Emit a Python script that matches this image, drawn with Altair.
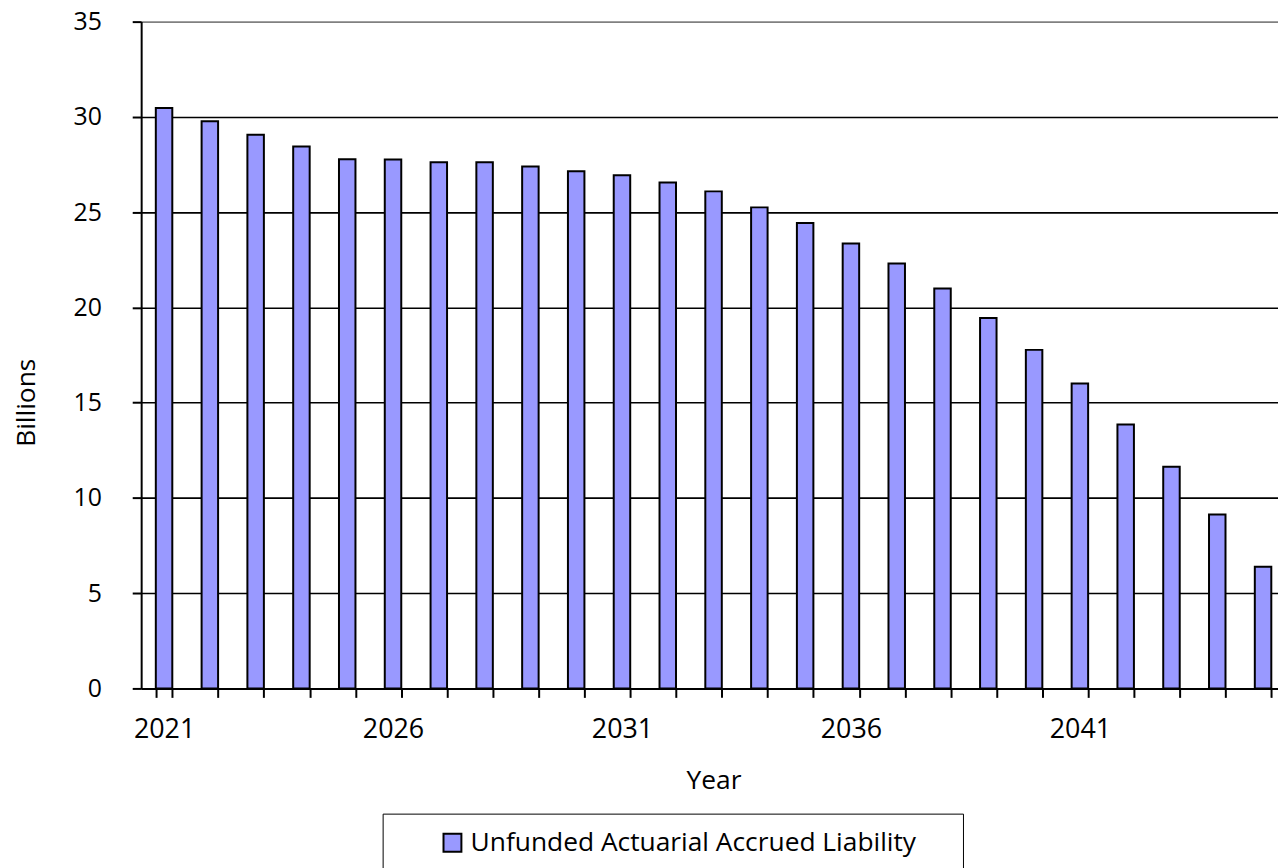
import altair as alt
import pandas as pd

years = [2021, 2022, 2023, 2024, 2025, 2026, 2027, 2028, 2029, 2030,
         2031, 2032, 2033, 2034, 2035, 2036, 2037, 2038, 2039, 2040,
         2041, 2042, 2043, 2044, 2045]
uaal_billions = [30.47, 29.77, 29.06, 28.45, 27.78, 27.76, 27.62, 27.62, 27.40, 27.15,
                 26.93, 26.56, 26.09, 25.25, 24.43, 23.35, 22.31, 20.99, 19.44, 17.77,
                 16.00, 13.85, 11.63, 9.13, 6.39]
y_ticks = [0, 5, 10, 15, 20, 25, 30, 35]
series_name = "Unfunded Actuarial Accrued Liability"

df = pd.DataFrame({
    "Year": years,
    "Billions": uaal_billions,
    "Series": [series_name] * len(years),
})

FONT = "Open Sans"
TOP = 11
PLOT_H = 671

x_axis = alt.Axis(
    title="Year",
    labelAngle=0,
    labelExpr="(datum.value - 2021) % 5 == 0 ? datum.label : ''",
    tickBand="extent",
    tickSize=9,
    tickWidth=2,
    tickColor="black",
    domainColor="black",
    domainWidth=2,
    labelFont=FONT,
    labelFontSize=27,
    labelColor="black",
    labelPadding=19,
    labelOverlap=False,
    titleFont=FONT,
    titleFontSize=26.5,
    titleFontWeight="normal",
    titleColor="black",
    titlePadding=26,
    grid=False,
)

y_axis = alt.Axis(
    title="Billions",
    values=y_ticks,
    tickSize=9,
    tickWidth=2,
    tickColor="black",
    domainColor="black",
    domainWidth=2,
    grid=True,
    gridColor={"condition": {"test": "datum.value === 35", "value": "#808080"}, "value": "black"},
    gridWidth=1.6,
    labelFont=FONT,
    labelFontSize=25,
    labelColor="black",
    labelPadding=31,
    titleFont=FONT,
    titleFontSize=26.5,
    titleFontWeight="normal",
    titleColor="black",
    titleX=-115,
    titleY=383,
    titleAlign="center",
    titleBaseline="middle",
)

legend = alt.Legend(
    title="\u00a0",
    titleOrient="right",
    titlePadding=31,
    titleFontSize=10,
    orient="none",
    legendX=243,
    legendY=797,
    direction="horizontal",
    padding=16,
    strokeColor="black",
    fillColor="white",
    symbolType="square",
    symbolSize=324,
    symbolStrokeColor="black",
    symbolStrokeWidth=2,
    symbolOffset=41,
    labelOffset=5,
    labelFont=FONT,
    labelFontSize=26.5,
    labelColor="black",
    labelLimit=1000,
)

chart = alt.Chart(df).mark_bar(stroke="black", strokeWidth=2).encode(
    x=alt.X("Year:O", scale=alt.Scale(range=[0, 1152], paddingInner=0.64, paddingOuter=0.32), axis=x_axis),
    y=alt.Y("Billions:Q", scale=alt.Scale(domain=[0, 35], nice=False), axis=y_axis),
    color=alt.Color("Series:N", scale=alt.Scale(domain=[series_name], range=["#9999FF"]), legend=legend),
).properties(
    width=1144,
    height=PLOT_H,
    autosize=alt.AutoSizeParams(type="none"),
    padding={"left": 134, "top": TOP, "right": 0, "bottom": 860 - TOP - PLOT_H},
).configure_view(strokeOpacity=0)

chart.save("out.html", embed_options={"renderer": "svg", "actions": False})
